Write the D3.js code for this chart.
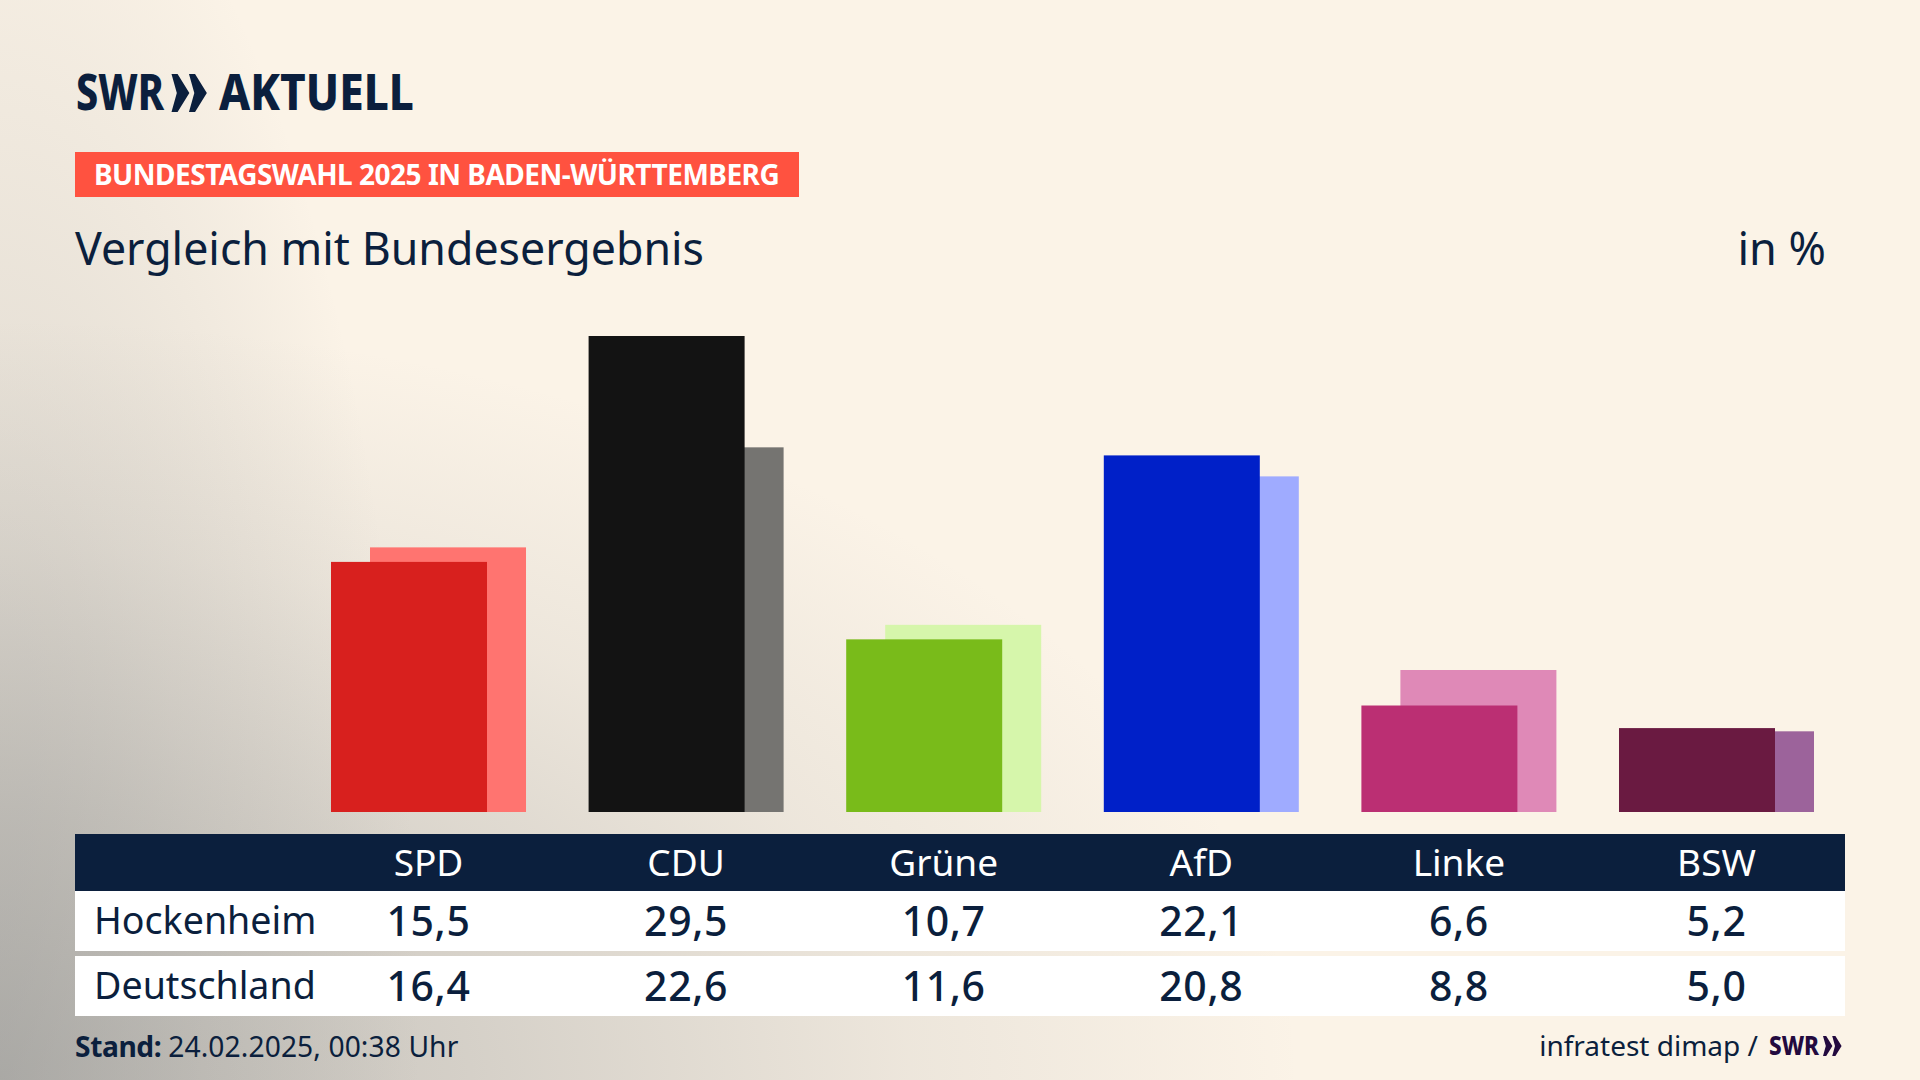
<!DOCTYPE html>
<html>
<head>
<meta charset="utf-8">
<script src="https://cdn.jsdelivr.net/npm/d3@7"></script>
<style>
  html, body { margin: 0; padding: 0; background: #fbf3e7; }
  svg { display: block; }
  text { font-family: 'Noto Sans', sans-serif; fill: #0b1f3d; }
</style>
</head>
<body>
<svg></svg>
<script>
const parties = ['SPD', 'CDU', 'Grüne', 'AfD', 'Linke', 'BSW']
const hockenheim = [15.5, 29.5, 10.7, 22.1, 6.6, 5.2]
const deutschland = [16.4, 22.6, 11.6, 20.8, 8.8, 5.0]
const frontColors = ['#d8201e', '#131313', '#79bb1a', '#0020c8', '#bb2f73', '#6a1a41']
const backColors = ['#ff7470', '#757471', '#d6f6ab', '#9fabff', '#df89b7', '#9c639b']
const rowLabels = ['Hockenheim', 'Deutschland']

// canvas sizes
const width = 1920
const height = 1080
const navy = '#0b1f3d'
const tableLeft = 75
const tableRight = 1845
const baseline = 812

const svg = d3.select('svg')
  .attr('width', width)
  .attr('height', height)

// background, cream with grey glows from the lower left
const defs = svg.append('defs')

function addGlow (id, transform, stops) {
  const glow = defs.append('radialGradient')
    .attr('id', id)
    .attr('gradientUnits', 'userSpaceOnUse')
    .attr('cx', 0).attr('cy', 0).attr('r', 1)
    .attr('gradientTransform', transform)
  glow.selectAll('stop')
    .data(stops)
    .enter()
    .append('stop')
    .attr('offset', d => d[0])
    .attr('stop-color', '#8f908f')
    .attr('stop-opacity', d => d[1])
  svg.append('rect')
    .attr('width', width)
    .attr('height', height)
    .attr('fill', 'url(#' + id + ')')
}

svg.append('rect').attr('width', width).attr('height', height).attr('fill', '#fbf3e7')
addGlow('glowWide', 'translate(0,1080) scale(1300,760)', [[0, 0.55], [0.35, 0.36], [0.7, 0.13], [1, 0]])
addGlow('glowLeft', 'translate(0,1080) scale(420,1300)', [[0, 0.45], [0.5, 0.2], [1, 0]])

// scales
const x = d3.scaleBand()
  .domain(parties)
  .range([331, 1814])
  .paddingInner(0.243)
const y = d3.scaleLinear()
  .domain([0, 29.5])
  .range([baseline, 336])
const barWidth = x.bandwidth() * 0.8

// bars, Deutschland sits behind Hockenheim
svg.selectAll('.bar-de')
  .data(parties)
  .enter()
  .append('rect')
  .attr('class', 'bar-de')
  .attr('x', d => x(d) + x.bandwidth() - barWidth)
  .attr('y', (d, i) => y(deutschland[i]))
  .attr('width', barWidth)
  .attr('height', (d, i) => baseline - y(deutschland[i]))
  .attr('fill', (d, i) => backColors[i])

svg.selectAll('.bar-hk')
  .data(parties)
  .enter()
  .append('rect')
  .attr('class', 'bar-hk')
  .attr('x', d => x(d))
  .attr('y', (d, i) => y(hockenheim[i]))
  .attr('width', barWidth)
  .attr('height', (d, i) => baseline - y(hockenheim[i]))
  .attr('fill', (d, i) => frontColors[i])

// chevrons of the SWR logo
function chevrons (px, py, h, fill) {
  const edge = h * 0.16
  const tip = h * 0.47
  const notch = h * 0.14
  const g = svg.append('g').attr('transform', 'translate(' + px + ',' + py + ')').attr('fill', fill)
  ;[0, h * 0.46].forEach(dx => {
    g.append('path')
      .attr('d', 'M' + dx + ',0 L' + (dx + edge) + ',0 L' + (dx + tip) + ',' + (h / 2) + ' L' + (dx + edge) + ',' + h + ' L' + dx + ',' + h + ' L' + (dx + notch) + ',' + (h / 2) + ' Z')
  })
}

// squeezes a bold logo word into the width it has in the picture
function logoWord (word, px, py, size, len, fill) {
  svg.append('text').attr('x', px).attr('y', py)
    .attr('font-size', size).attr('font-weight', 800)
    .attr('textLength', len).attr('lengthAdjust', 'spacingAndGlyphs')
    .style('fill', fill).text(word)
}

// header
logoWord('SWR', 76, 110, 49, 88, navy)
chevrons(171.5, 74, 38, navy)
logoWord('AKTUELL', 219, 110, 49, 195, navy)

svg.append('rect').attr('x', 75).attr('y', 152).attr('width', 724).attr('height', 45).attr('fill', '#ff5240')
svg.append('text').attr('x', 94).attr('y', 185)
  .attr('font-size', 28).attr('font-weight', 700).attr('letter-spacing', -0.5)
  .style('fill', '#fff').text('BUNDESTAGSWAHL 2025 IN BADEN-WÜRTTEMBERG')
svg.append('text').attr('x', 75).attr('y', 265)
  .attr('font-size', 44.7).text('Vergleich mit Bundesergebnis')
svg.append('text').attr('x', 1826).attr('y', 265).attr('text-anchor', 'end')
  .attr('font-size', 45).text('in %')

// table
svg.append('rect').attr('x', tableLeft).attr('y', 834).attr('width', tableRight - tableLeft).attr('height', 57).attr('fill', navy)
svg.append('rect').attr('x', tableLeft).attr('y', 891).attr('width', tableRight - tableLeft).attr('height', 60).attr('fill', '#fff')
svg.append('rect').attr('x', tableLeft).attr('y', 956).attr('width', tableRight - tableLeft).attr('height', 60).attr('fill', '#fff')

const center = d => x(d) + x.bandwidth() / 2

svg.selectAll('.head')
  .data(parties)
  .enter()
  .append('text')
  .attr('class', 'head')
  .attr('x', center)
  .attr('y', 876)
  .attr('text-anchor', 'middle')
  .attr('font-size', 37)
  .style('fill', '#fff')
  .text(d => d)

const fmt = v => v.toFixed(1).replace('.', ',')
const rows = [hockenheim, deutschland]
const labelY = [934, 999]
const valueY = [936, 1001]

rows.forEach((row, r) => {
  svg.append('text').attr('x', 94).attr('y', labelY[r])
    .attr('font-size', 37.6).text(rowLabels[r])
  svg.selectAll('.val' + r)
    .data(row)
    .enter()
    .append('text')
    .attr('class', 'val' + r)
    .attr('x', (d, i) => center(parties[i]))
    .attr('y', valueY[r])
    .attr('text-anchor', 'middle')
    .attr('font-size', 41)
    .attr('font-weight', 500)
    .attr('letter-spacing', 0.6)
    .text(fmt)
})

// footer
const stand = svg.append('text').attr('x', 75).attr('y', 1057).attr('font-size', 28.2)
stand.append('tspan').attr('font-weight', 700).attr('letter-spacing', -0.4).text('Stand: ')
stand.append('tspan').attr('letter-spacing', 0.1).text('24.02.2025, 00:38 Uhr')
svg.append('text').attr('x', 1758).attr('y', 1056).attr('text-anchor', 'end')
  .attr('font-size', 28).text('infratest dimap /')
logoWord('SWR', 1769, 1055, 27, 50, '#230a3f')
chevrons(1823, 1036, 20, '#230a3f')
</script>
</body>
</html>
